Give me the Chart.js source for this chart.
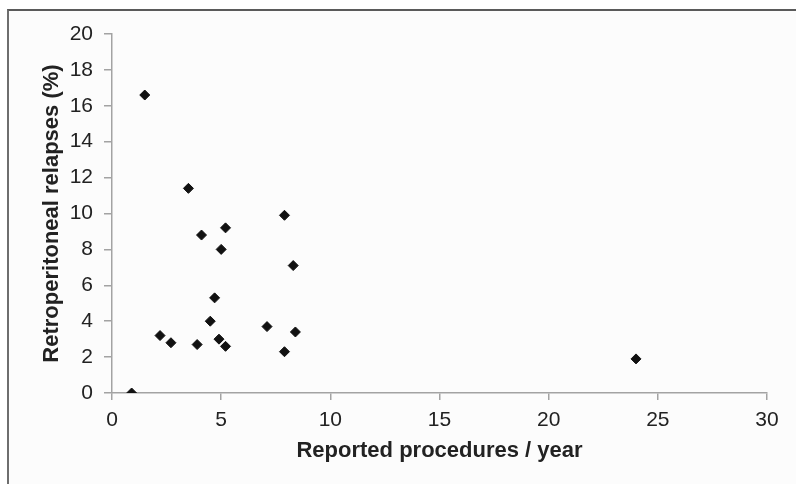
<!DOCTYPE html>
<html>
<head>
<meta charset="utf-8">
<script src="https://cdn.jsdelivr.net/npm/chart.js@4/dist/chart.umd.min.js"></script>
<style>
  html, body { margin: 0; padding: 0; background: #ffffff; }
  body { width: 796px; height: 484px; position: relative; overflow: hidden; }
  #frame { position: absolute; left: 7px; top: 9px; width: 820px; height: 500px;
           border-top: 2px solid #5a5a5a; border-left: 2px solid #6e6e6e; background: #fcfcfc; }
  #c { position: absolute; left: 0; top: 0; }
</style>
</head>
<body>
<div id="frame"></div>
<canvas id="c" width="796" height="484"></canvas>
<script>
const proceduresPerYear = [0.9, 1.5, 2.2, 2.7, 3.5, 3.9, 4.1, 4.5, 4.7, 4.9, 5.0, 5.2, 5.2, 7.1, 7.9, 7.9, 8.3, 8.4, 24.0];
const relapsesPct       = [0.0, 16.6, 3.2, 2.8, 11.4, 2.7, 8.8, 4.0, 5.3, 3.0, 8.0, 9.2, 2.6, 3.7, 2.3, 9.9, 7.1, 3.4, 1.9];
const xTitle = 'Reported procedures / year';
const yTitle = 'Retroperitoneal relapses (%)';

const points = proceduresPerYear.map((x, i) => ({ x: x, y: relapsesPct[i] }));

const axisGray = '#a3a3a3';
new Chart(document.getElementById('c'), {
  type: 'scatter',
  data: {
    datasets: [{
      data: points,
      pointStyle: 'rectRot',
      pointRadius: 5,
      pointHoverRadius: 5,
      backgroundColor: '#111111',
      borderColor: '#111111',
      borderWidth: 1
    }]
  },
  options: {
    responsive: false,
    animation: false,
    events: [],
    layout: { padding: { left: 0, top: 34, right: 29, bottom: 0 } },
    plugins: { legend: { display: false }, tooltip: { enabled: false } },
    scales: {
      x: {
        type: 'linear', min: 0, max: 30,
        afterFit: s => { s.height = 91; },
        ticks: { stepSize: 5, padding: 8, color: '#222', font: { family: 'Liberation Sans', size: 21 } },
        grid: { drawOnChartArea: false, drawTicks: true, tickLength: 7, color: axisGray, lineWidth: 1.5 },
        border: { display: true, color: axisGray, width: 1.5 },
        title: { display: true, text: xTitle, color: '#222', padding: { top: 0, bottom: 20 },
                 font: { family: 'Liberation Sans', size: 22, weight: 'bold' } }
      },
      y: {
        type: 'linear', min: 0, max: 20,
        afterFit: s => { s.width = 112; },
        ticks: { stepSize: 2, padding: 11, color: '#222', font: { family: 'Liberation Sans', size: 21 } },
        grid: { drawOnChartArea: false, drawTicks: true, tickLength: 8, color: axisGray, lineWidth: 1.5 },
        border: { display: true, color: axisGray, width: 1.5 },
        title: { display: true, text: yTitle, color: '#222', padding: { top: 39, bottom: 0 },
                 font: { family: 'Liberation Sans', size: 22, weight: 'bold' } }
      }
    }
  }
});
</script>
</body>
</html>
